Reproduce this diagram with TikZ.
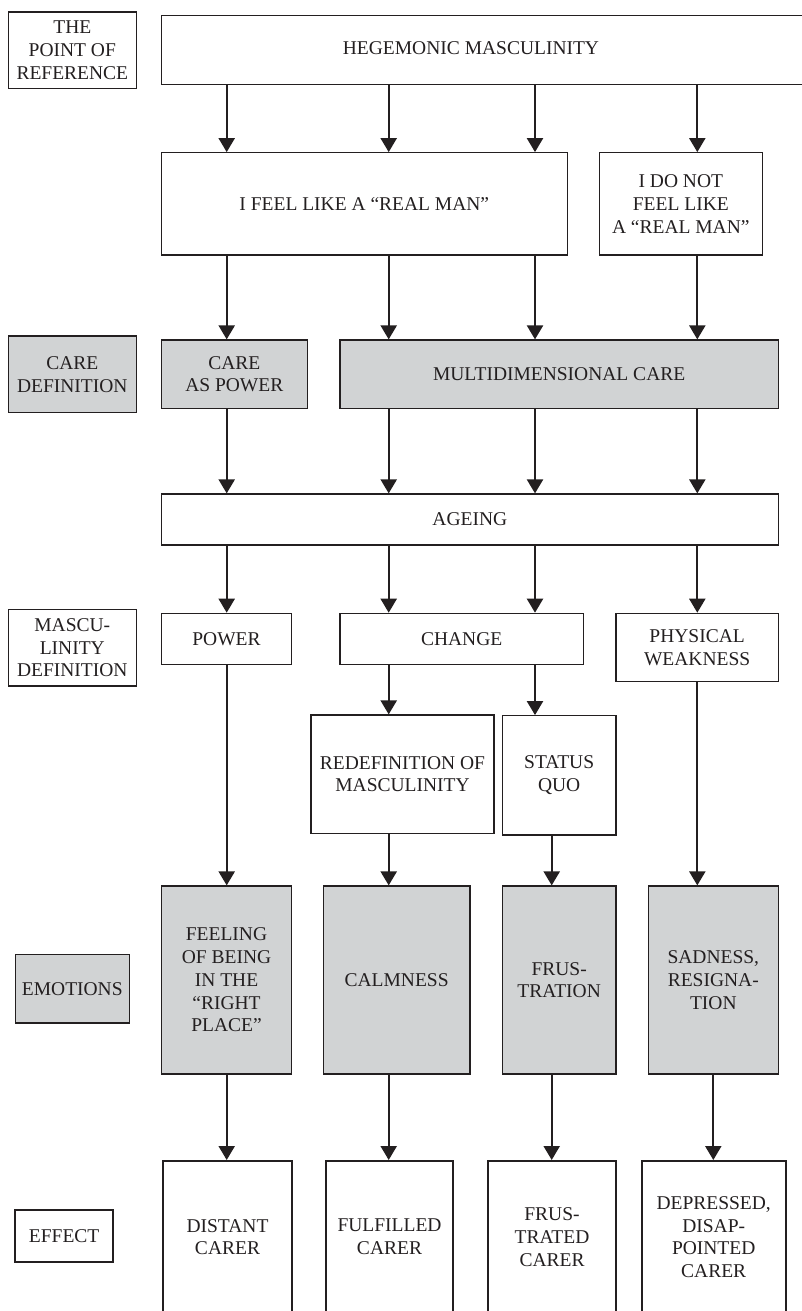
\documentclass[tikz,border=0pt]{standalone}
\usepackage{fontspec}
\setmainfont{Liberation Serif}
\usetikzlibrary{arrows.meta}
\definecolor{ink}{HTML}{231F20}
\definecolor{shade}{HTML}{D1D3D4}
\newcommand\dfont{\fontsize{19.5}{22.7}\selectfont}
\tikzset{
  box/.style={draw=ink, line width=1.2pt, fill=white, align=center, inner sep=2pt, font=\dfont, text=ink},
  gbox/.style={box, fill=shade},
  tbox/.style={box, line width=2pt},
  arr/.style={draw=ink, line width=2.2pt, -{Triangle[length=14pt,width=16pt]}},
  wh/.style n args={2}{minimum width=#1pt, minimum height=#2pt}
}
\begin{document}
\begin{tikzpicture}[x=1pt,y=-1pt]
\useasboundingbox (0,0) rectangle (802,1311);
\clip (0,0) rectangle (802,1311);
\fill[white] (0,0) rectangle (802,1311);
% column coordinates
\coordinate (cA) at (226.7,0);
\coordinate (cB) at (388.7,0);
\coordinate (cC) at (535,0);
\coordinate (cD) at (697.3,0);
\coordinate (cE) at (551.7,0);
\coordinate (cF) at (713.3,0);
% left labels
\node[box, wh={128}{76.7}] (ref) at (72.3,50.3) {THE\\POINT OF\\REFERENCE};
\node[gbox, wh={128}{76.7}] (caredef) at (72.3,374.35) {CARE\\DEFINITION};
\node[box, wh={128}{76.7}] (masc) at (72.3,647.65) {MASCU-\\LINITY\\DEFINITION};
\node[gbox, wh={114}{68.7}] (emo) at (72.3,988.65) {EMOTIONS};
\node[tbox, wh={98.3}{52}] (effect) at (64.15,1236) {EFFECT};
% row 1
\node[box, wh={653.7}{68.6}] (heg) at (488.15,50) {};
\node[font=\dfont, text=ink, inner sep=0pt] (heglabel) at (471,48) {HEGEMONIC MASCULINITY};
% row 2
\node[box, wh={406}{102.3}] (feel) at (364.3,203.85) {I FEEL LIKE A “REAL MAN”};
\node[box, wh={163}{102.3}] (notreal) at (680.8,203.85) {I DO NOT\\FEEL LIKE\\A “REAL MAN”};
% row 3
\node[gbox, wh={146}{68.3}] (carepow) at (234.3,374.15) {CARE\\AS POWER};
\node[gbox, wh={438.3}{68.3}] (multi) at (559.15,374.15) {MULTIDIMENSIONAL CARE};
% row 4
\node[box, wh={617}{51}] (ageing) at (469.8,519.5) {AGEING};
% row 5
\node[box, wh={130.4}{51}] (power) at (226.5,638.8) {POWER};
\node[box, wh={243.3}{51}] (change) at (461.65,638.8) {CHANGE};
\node[box, wh={162.3}{68.4}] (phys) at (697.15,647.5) {PHYSICAL\\WEAKNESS};
% row 6
\node[box, wh={183}{118.3}] (redef) at (402.5,774.15) {REDEFINITION OF\\MASCULINITY};
\node[box, wh={113.7}{119.3}] (status) at (559.15,775.35) {STATUS\\QUO};
% row 7
\node[gbox, wh={130.4}{188}] (feeling) at (226.5,980) {FEELING\\OF BEING\\IN THE\\“RIGHT\\PLACE”};
\node[gbox, wh={146.7}{188}] (calm) at (396.65,980) {CALMNESS};
\node[gbox, wh={113.7}{188}] (frus) at (559.15,980) {FRUS-\\TRATION};
\node[gbox, wh={130}{188}] (sad) at (713.3,980) {SADNESS,\\RESIGNA-\\TION};
% row 8
\node[tbox, wh={128.4}{152}] (distant) at (227.5,1237) {DISTANT\\CARER};
\node[tbox, wh={127.6}{152}] (fulfilled) at (389.5,1237) {FULFILLED\\CARER};
\node[tbox, wh={127.4}{152}] (frustrated) at (552,1237) {FRUS-\\TRATED\\CARER};
\node[tbox, wh={144}{152}] (depressed) at (713.7,1237) {DEPRESSED,\\DISAP-\\POINTED\\CARER};
% arrows
\draw[arr] (heg.south -| cA) -- (feel.north -| cA);
\draw[arr] (heg.south -| cB) -- (feel.north -| cB);
\draw[arr] (heg.south -| cC) -- (feel.north -| cC);
\draw[arr] (heg.south -| cD) -- (notreal.north -| cD);
\draw[arr] (feel.south -| cA) -- (carepow.north -| cA);
\draw[arr] (feel.south -| cB) -- (multi.north -| cB);
\draw[arr] (feel.south -| cC) -- (multi.north -| cC);
\draw[arr] (notreal.south -| cD) -- (multi.north -| cD);
\draw[arr] (carepow.south -| cA) -- (ageing.north -| cA);
\draw[arr] (multi.south -| cB) -- (ageing.north -| cB);
\draw[arr] (multi.south -| cC) -- (ageing.north -| cC);
\draw[arr] (multi.south -| cD) -- (ageing.north -| cD);
\draw[arr] (ageing.south -| cA) -- (power.north -| cA);
\draw[arr] (ageing.south -| cB) -- (change.north -| cB);
\draw[arr] (ageing.south -| cC) -- (change.north -| cC);
\draw[arr] (ageing.south -| cD) -- (phys.north -| cD);
\draw[arr] (change.south -| cB) -- (redef.north -| cB);
\draw[arr] (change.south -| cC) -- (status.north -| cC);
\draw[arr] (power.south -| cA) -- (feeling.north -| cA);
\draw[arr] (redef.south -| cB) -- (calm.north -| cB);
\draw[arr] (status.south -| cE) -- (frus.north -| cE);
\draw[arr] (phys.south -| cD) -- (sad.north -| cD);
\draw[arr] (feeling.south -| cA) -- (distant.north -| cA);
\draw[arr] (calm.south -| cB) -- (fulfilled.north -| cB);
\draw[arr] (frus.south -| cE) -- (frustrated.north -| cE);
\draw[arr] (sad.south -| cF) -- (depressed.north -| cF);
\end{tikzpicture}
\end{document}
